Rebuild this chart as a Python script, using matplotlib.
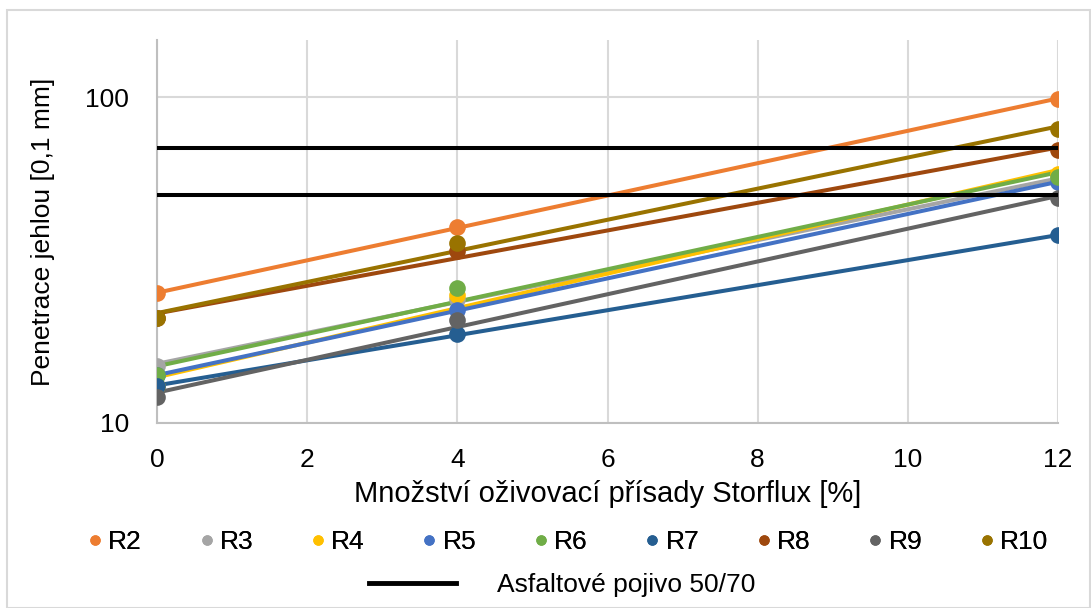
import numpy as np
import matplotlib
matplotlib.use("Agg")
import matplotlib.pyplot as plt
from matplotlib.lines import Line2D
from matplotlib.patches import Rectangle

plt.rcParams['font.family'] = ['Liberation Sans', 'DejaVu Sans']

x_vals = [0, 4, 12]
series_names = ["R2", "R3", "R4", "R5", "R6", "R7", "R8", "R9", "R10"]
R2 = [25, 40, 99]
R3 = [15, 24, 56]
R4 = [13, 24.7, 58]
R5 = [14, 22.2, 55]
R6 = [14, 26, 57]
R7 = [13, 18.7, 37.7]
R8 = [21, 33.7, 69]
R9 = [12, 20.7, 49]
R10 = [21, 35.6, 80]
series_values = [R2, R3, R4, R5, R6, R7, R8, R9, R10]
colors = ["#ED7D31", "#A5A5A5", "#FFC000", "#4472C4", "#70AD47",
          "#255E91", "#9E480E", "#636363", "#997300"]
binder_limits = [50, 70]
binder_label = "Asfaltové pojivo 50/70"

W, H = 1091, 608
FS = 19
fig = plt.figure(figsize=(W / 100, H / 100), dpi=100)
ax = fig.add_axes([157 / W, 1 - 423 / H, (1058 - 157) / W, (423 - 40) / H])

xs = np.array(x_vals, dtype=float)
for vals, c in zip(series_values, colors):
    v = np.array(vals, dtype=float)
    b, a = np.polyfit(xs, np.log(v), 1)
    xl = np.array([xs.min(), xs.max()])
    ax.plot(xl, np.exp(a + b * xl), color=c, lw=2.9, solid_capstyle='butt', zorder=3)
    ax.plot(xs, v, 'o', color=c, ms=12, mec='none', zorder=4)

for lim in binder_limits:
    ax.plot([x_vals[0], x_vals[-1]], [lim, lim], color='black', lw=2.9, zorder=5)

ax.set_yscale('log')
ax.set_ylim(10, 150)
ax.set_xlim(0, 12)
ax.set_xticks(range(0, 13, 2))
ax.set_yticks([10, 100])
ax.set_yticklabels(["10", "100"])
ax.yaxis.set_minor_locator(matplotlib.ticker.NullLocator())
ax.grid(True, which='major', color='#D9D9D9', lw=1.5, zorder=0)
ax.set_axisbelow(True)
for s in ['top', 'right']:
    ax.spines[s].set_visible(False)
for s in ['left', 'bottom']:
    ax.spines[s].set_color('#BFBFBF')
    ax.spines[s].set_linewidth(1.5)
ax.tick_params(length=0, labelsize=FS, colors='black')
ax.tick_params(axis='y', pad=20)
ax.tick_params(axis='x', pad=18)
ax.set_xlabel("Množství oživovací přísady Storflux [%]", fontsize=21, labelpad=6)
ax.set_ylabel("Penetrace jehlou [0,1 mm]", fontsize=FS, labelpad=22)

handles = [Line2D([], [], marker='o', ls='none', color=c, ms=7.5, mec='none') for c in colors]
leg1 = fig.legend(handles, series_names, loc='center', bbox_to_anchor=(0.518, 1 - 542 / H),
                  ncol=9, frameon=False, fontsize=FS, handletextpad=0.0,
                  columnspacing=1.95, handlelength=1.0)
fig.add_artist(leg1)
h2 = [Line2D([], [], color='black', lw=3.5)]
fig.legend(h2, [binder_label], loc='center', bbox_to_anchor=(0.5156, 1 - 585 / H),
           frameon=False, fontsize=FS, handlelength=3.3, handletextpad=1.55)

fig.patches.append(Rectangle((7 / W, 0), 1 - 8 / W, 1 - 10 / H, transform=fig.transFigure,
                             fill=False, edgecolor='#D9D9D9', lw=1.5))

fig.savefig("out.png", dpi=100)
